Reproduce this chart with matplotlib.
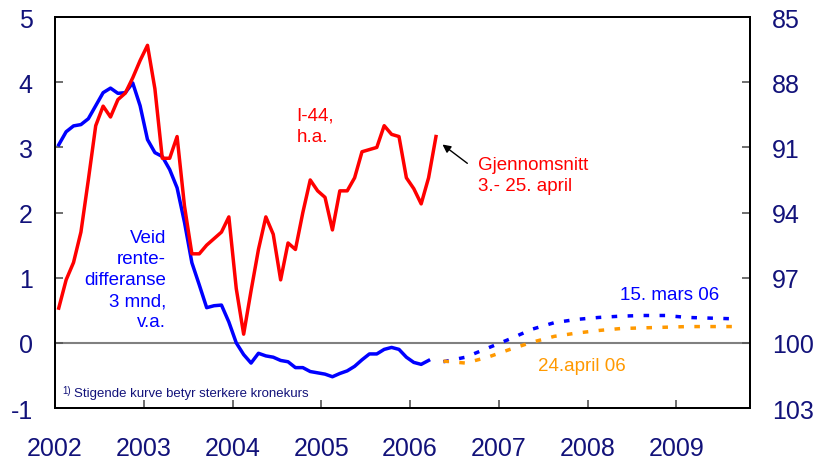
import numpy as np
import matplotlib
matplotlib.use('Agg')
import matplotlib.pyplot as plt

plt.rcParams['font.family'] = ['Liberation Sans', 'DejaVu Sans']
plt.rcParams['axes.unicode_minus'] = False

NAVY = '#12127a'
BLUE = '#0000ff'
RED = '#ff0000'
ORANGE = '#ff9900'

# monthly observations, Jan 2002 - Apr 2006
rente_diff = [3.04, 3.24, 3.33, 3.35, 3.44, 3.64, 3.84, 3.91, 3.83, 3.84,
              3.99, 3.64, 3.12, 2.92, 2.86, 2.66, 2.38, 1.85, 1.23, 0.89,
              0.54, 0.57, 0.58, 0.32, 0.00, -0.18, -0.31, -0.16, -0.20, -0.22,
              -0.27, -0.29, -0.38, -0.38, -0.44, -0.46, -0.48, -0.52, -0.47, -0.43,
              -0.36, -0.26, -0.17, -0.17, -0.10, -0.07, -0.10, -0.22, -0.30, -0.33,
              -0.27]
i44 = [98.4, 97.1, 96.3, 94.9, 92.5, 90.0, 89.1, 89.6, 88.8, 88.5,
       87.8, 87.0, 86.3, 88.3, 91.5, 91.5, 90.5, 93.7, 95.9, 95.9,
       95.5, 95.2, 94.9, 94.2, 97.5, 99.6, 97.6, 95.7, 94.2, 95.0,
       97.1, 95.4, 95.7, 94.0, 92.5, 93.0, 93.3, 94.8, 93.0, 93.0,
       92.4, 91.2, 91.1, 91.0, 90.0, 90.4, 90.5, 92.4, 92.9, 93.6,
       92.4, 90.5]

# forward rates, quarterly (mid-quarter), 2006Q2 - 2009Q3
fc_dates = [2006.375, 2006.625, 2006.875, 2007.125, 2007.375, 2007.625, 2007.875,
            2008.125, 2008.375, 2008.625, 2008.875, 2009.125, 2009.375, 2009.625]
fc_mars = [-0.29, -0.22, -0.08, 0.06, 0.21, 0.31, 0.36,
           0.39, 0.41, 0.42, 0.42, 0.39, 0.38, 0.37]
fc_april = [-0.28, -0.31, -0.22, -0.10, 0.01, 0.10, 0.15,
            0.19, 0.22, 0.23, 0.24, 0.25, 0.25, 0.25]

years = [2002, 2003, 2004, 2005, 2006, 2007, 2008, 2009]
left_ticks = [-1, 0, 1, 2, 3, 4, 5]
right_ticks = [85, 88, 91, 94, 97, 100, 103]

t_diff = 2002 + (np.arange(len(rente_diff)) + 0.5) / 12
t_i44 = 2002 + (np.arange(len(i44)) + 0.5) / 12

fig = plt.figure(figsize=(8.19, 4.64), dpi=100)
ax = fig.add_axes([0.0672, 0.1185, 0.8486, 0.8425])
ax2 = ax.twinx()

ax.axhline(0, color='#808080', lw=1.5, zorder=1)
ax.plot(t_diff, rente_diff, color=BLUE, lw=2.5, zorder=3)
ax.plot(fc_dates, fc_mars, color=BLUE, lw=2.5, ls=(0, (1.6, 3.0)), zorder=3)
ax.plot(fc_dates, fc_april, color=ORANGE, lw=2.5, ls=(0, (1.6, 3.0)), zorder=3)
ax2.plot(t_i44, i44, color=RED, lw=2.5, zorder=3)

ax.set_xlim(2002, 2009.83)
ax.set_ylim(-1, 5)
ax2.set_ylim(103, 85)
ax.set_xticks(years)
ax.set_yticks(left_ticks)
ax2.set_yticks(right_ticks)

for a in (ax, ax2):
    for s in a.spines.values():
        s.set_linewidth(1.4)
        s.set_color('black')
ax.tick_params(axis='both', direction='in', length=6, width=1.2, color='#555555',
               labelsize=18, labelcolor=NAVY)
ax.tick_params(axis='x', pad=20)
ax.tick_params(axis='y', pad=16)
ax2.tick_params(axis='y', direction='in', length=6, width=1.2, color='#555555',
                labelsize=18, labelcolor=NAVY, pad=16)

txt = dict(fontsize=13.5, linespacing=1.3)
ax.text(2003.25, 0.97, 'Veid\nrente-\ndifferanse\n3 mnd,\nv.a.', color=BLUE,
        ha='right', va='center', multialignment='right', **txt)
ax.text(2004.72, 3.33, 'I-44,\nh.a.', color=RED, ha='left', va='center', **txt)
ax.text(2006.77, 2.57, 'Gjennomsnitt\n3.- 25. april', color=RED,
        ha='left', va='center', **txt)
ax.annotate('', xy=(2006.34, 3.07), xytext=(2006.67, 2.73),
            arrowprops=dict(arrowstyle='-|>', color='black', lw=1,
                            mutation_scale=12))
ax.text(2008.37, 0.74, '15. mars 06', color=BLUE, ha='left', va='center',
        fontsize=13.5)
ax.text(2007.44, -0.34, '24.april 06', color=ORANGE, ha='left', va='center',
        fontsize=13.5)
ax.text(2002.08, -0.72, '1)', color=NAVY, fontsize=7, ha='left', va='center')
ax.text(2002.21, -0.77, 'Stigende kurve betyr sterkere kronekurs', color=NAVY,
        fontsize=9.5, ha='left', va='center')

fig.savefig('out.png', dpi=100)
